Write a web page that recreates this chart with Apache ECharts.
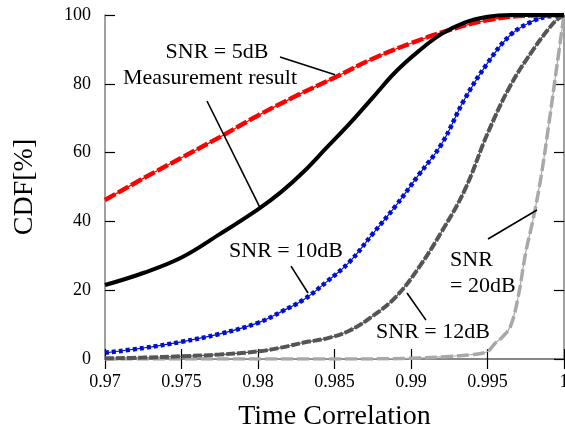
<!DOCTYPE html>
<html>
<head>
<meta charset="utf-8">
<script src="https://cdn.jsdelivr.net/npm/echarts@6/dist/echarts.min.js"></script>
<style>
  html, body { margin: 0; padding: 0; background: #fff; }
  #chart { width: 565px; height: 431px; }
</style>
</head>
<body>
<div id="chart"></div>
<script>
// CDF of time correlation: measurement and simulated SNR cases
const snr5X  = [0.970, 0.9725, 0.975, 0.9775, 0.980, 0.9825, 0.985, 0.9875, 0.990, 0.9925, 0.995, 0.9975, 1.0];
const snr5Y  = [46.2, 52.5, 58.5, 64.5, 70.8, 76.5, 81.8, 87.3, 91.8, 95.6, 98.5, 99.8, 100];

const measX  = [0.970, 0.9725, 0.975, 0.9775, 0.980, 0.9815, 0.983, 0.9845, 0.986, 0.9875, 0.989, 0.9905, 0.992, 0.9935, 0.995, 0.9965, 1.0];
const measY  = [21.5, 25.0, 29.5, 36.3, 43.5, 48.5, 54.5, 61.5, 68.5, 76.0, 83.5, 89.5, 94.5, 97.8, 99.5, 100, 100];

const snr10X = [0.970, 0.9725, 0.975, 0.9775, 0.980, 0.9815, 0.983, 0.9845, 0.986, 0.9875, 0.989, 0.9905, 0.992, 0.9935, 0.995, 0.9965, 0.998, 0.999, 1.0];
const snr10Y = [1.8, 3.2, 5.0, 7.3, 10.5, 13.7, 17.3, 22.5, 28.3, 36.4, 44.5, 53.5, 62.5, 75.5, 86.0, 94.2, 98.3, 99.6, 100];

const snr12X = [0.970, 0.9725, 0.975, 0.9775, 0.980, 0.9815, 0.983, 0.9845, 0.986, 0.9875, 0.989, 0.9905, 0.992, 0.9935, 0.995, 0.9965, 0.998, 0.999, 0.9995, 1.0];
const snr12Y = [0.2, 0.4, 0.8, 1.3, 2.2, 3.3, 4.8, 6.0, 8.3, 12.5, 18.0, 26.5, 37.0, 49.0, 65.5, 79.5, 90.0, 96.0, 98.5, 100];

const snr20X = [0.970, 0.985, 0.990, 0.992, 0.994, 0.995, 0.9955, 0.996, 0.9965, 0.997, 0.9975, 0.998, 0.9985, 0.999, 0.9995, 1.0];
const snr20Y = [0, 0, 0.2, 0.6, 1.3, 2.2, 4.6, 6.5, 9.5, 18.0, 31.0, 41.0, 53.0, 68.0, 84.0, 100];

const yTicks = [0, 20, 40, 60, 80, 100];

// Annotations, given in data coordinates
const labels = [
  { text: 'SNR = 5dB', at: [0.97732, 89.2], align: 'center' },
  { text: 'Measurement result', at: [0.976863, 81.7], align: 'center' },
  { text: 'SNR = 10dB', at: [0.98183, 31.4], align: 'center' },
  { text: 'SNR = 12dB', at: [0.991438, 7.8], align: 'center' },
  { text: 'SNR', at: [0.99255, 28.8], align: 'left' },
  { text: '= 20dB', at: [0.99255, 21.2], align: 'left' }
];
const leaders = [
  [[0.981438, 87.8], [0.985033, 82.6]],
  [[0.976667, 75.0], [0.98013, 44.0]],
  [[0.982157, 27.0], [0.983268, 19.2]],
  [[0.989739, 19.2], [0.99098, 11.3]],
  [[0.995033, 34.9], [0.998235, 43.3]]
];

const FONT = '"Liberation Serif", "Times New Roman", serif';

function zip(xs, ys) { return xs.map((x, i) => [x, ys[i]]); }

function curve(name, xs, ys, color, dash, width, thin) {
  const data = zip(xs, ys);
  const out = [];
  if (thin) {
    out.push({
      name: name + '-base', type: 'line', data, showSymbol: false, smooth: 0.4,
      silent: true, lineStyle: { color, width: thin, type: 'solid' }, z: 2
    });
  }
  out.push({
    name, type: 'line', data, showSymbol: false, smooth: 0.4,
    lineStyle: { color, width, type: dash, cap: 'butt' }, z: 3
  });
  return out;
}

const chart = echarts.init(document.getElementById('chart'), null, { renderer: 'canvas' });

const tickStyle = { show: true, inside: true, length: 10, lineStyle: { color: '#000', width: 1.2 } };
const lineStyle = { show: true, lineStyle: { color: '#808080', width: 1.5 } };

chart.setOption({
  backgroundColor: '#fff',
  animation: false,
  grid: { left: 105, right: 1, top: 15, bottom: 72, containLabel: false, outerBoundsMode: 'none' },
  xAxis: [{
    type: 'value', min: 0.97, max: 1.0, interval: 0.005, position: 'bottom',
    axisLine: lineStyle, axisTick: tickStyle, splitLine: { show: false },
    axisLabel: {
      margin: 14, color: '#000', fontFamily: FONT, fontSize: 18,
      formatter: v => String(parseFloat(v.toFixed(3)))
    },
    name: 'Time Correlation', nameLocation: 'middle', nameGap: 44,
    nameTextStyle: { color: '#000', fontFamily: FONT, fontSize: 28 }
  }, {
    type: 'value', min: 0.97, max: 1.0, interval: 0.005, position: 'top',
    axisLine: lineStyle, axisTick: tickStyle, axisLabel: { show: false }, splitLine: { show: false }
  }],
  yAxis: [{
    type: 'value', min: yTicks[0], max: yTicks[yTicks.length - 1], interval: 20, position: 'left',
    axisLine: lineStyle, axisTick: tickStyle, splitLine: { show: false },
    axisLabel: { margin: 14, color: '#000', fontFamily: FONT, fontSize: 18 },
    name: 'CDF[%]', nameLocation: 'middle', nameGap: 66, nameRotate: 90,
    nameTextStyle: { color: '#000', fontFamily: FONT, fontSize: 28 }
  }, {
    type: 'value', min: yTicks[0], max: yTicks[yTicks.length - 1], interval: 20, position: 'right',
    axisLine: lineStyle, axisTick: tickStyle, axisLabel: { show: false }, splitLine: { show: false }
  }],
  series: [
    ...curve('SNR = 20dB', snr20X, snr20Y, '#a8a8a8', [12, 4], 3.5, 1.2),
    ...curve('SNR = 12dB', snr12X, snr12Y, '#555555', [9, 2], 4, 1.2),
    ...curve('SNR = 10dB', snr10X, snr10Y, '#0010d0', [4, 3], 4.5, 1.2),
    ...curve('SNR = 5dB', snr5X, snr5Y, '#ff0000', [12, 3], 4.5, 1.2),
    ...curve('Measurement result', measX, measY, '#000000', 'solid', 4, 0)
  ]
});

function placeAnnotations() {
  const px = p => chart.convertToPixel({ xAxisIndex: 0, yAxisIndex: 0 }, p);
  const elements = [];
  leaders.forEach(seg => {
    const a = px(seg[0]), b = px(seg[1]);
    elements.push({
      type: 'line', z: 100,
      shape: { x1: a[0], y1: a[1], x2: b[0], y2: b[1] },
      style: { stroke: '#000', lineWidth: 1.6 }
    });
  });
  labels.forEach(l => {
    const p = px(l.at);
    elements.push({
      type: 'text', z: 100, x: p[0], y: p[1],
      style: {
        text: l.text, fill: '#000', fontFamily: FONT, fontSize: 22,
        align: l.align, verticalAlign: 'middle'
      }
    });
  });
  chart.setOption({ graphic: elements });
}
placeAnnotations();
</script>
</body>
</html>
